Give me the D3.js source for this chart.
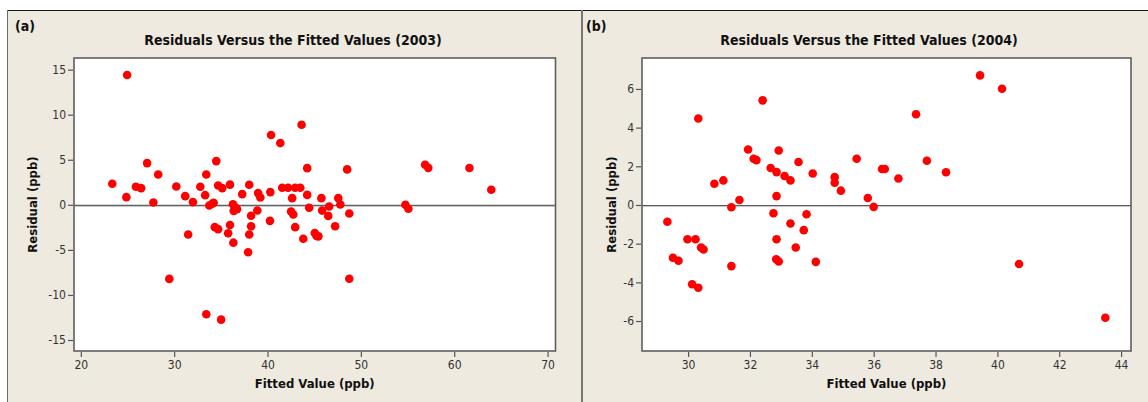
<!DOCTYPE html>
<html>
<head>
<meta charset="utf-8">
<script src="https://cdn.jsdelivr.net/npm/d3@7"></script>
<style>
  html, body { margin: 0; padding: 0; background: #ffffff; }
  svg { display: block; }
  .tick text { font-family: "DejaVu Sans Condensed", "DejaVu Sans", sans-serif; font-stretch: condensed; }
</style>
</head>
<body>
<svg id="chart" width="1148" height="402"></svg>
<script>
// Residuals vs fitted values, 2003 season
const fitted2003 = [23.37, 24.96, 24.88, 25.9, 26.46, 27.1, 27.77, 28.29, 29.48, 30.23,
  31.18, 31.5, 32.01, 32.8, 33.32, 33.44, 33.44, 33.76, 34.08, 34.23,
  34.51, 34.35, 34.71, 34.71, 35.15, 35.03, 35.78, 35.98, 35.98, 36.3,
  36.34, 36.38, 36.57, 36.73, 37.29, 37.92, 38.04, 38.04, 38.24, 38.24,
  38.91, 38.99, 39.23, 40.26, 40.3, 40.38, 41.37, 41.57, 42.2, 42.52,
  42.64, 42.76, 42.96, 42.96, 43.51, 43.65, 43.83, 44.25, 44.25, 44.46,
  45.06, 45.25, 45.45, 45.77, 45.85, 46.5, 46.6, 47.24, 47.58, 47.8,
  48.53, 48.76, 48.76, 54.77, 55.09, 56.88, 57.22, 61.63, 63.97];
const resid2003 = [2.33, 14.4, 0.85, 2.0, 1.85, 4.63, 0.26, 3.37, -8.22, 2.04,
  0.96, -3.3, 0.3, 2.0, 1.07, 3.37, -12.15, -0.07, 0.11, 0.22,
  4.85, -2.48, -2.7, 2.15, 1.85, -12.74, -3.15, 2.24, -2.24, 0.07,
  -4.2, -0.67, -0.3, -0.48, 1.19, -5.26, 2.22, -3.3, -1.22, -2.37,
  -0.63, 1.3, 0.81, -1.78, 1.41, 7.74, 6.85, 1.89, 1.89, -0.74,
  0.74, -1.07, -2.48, 1.89, 1.89, 8.88, -3.76, 4.07, 1.1, -0.33,
  -3.12, -3.46, -3.5, 0.74, -0.64, -1.23, -0.18, -2.37, 0.74, 0.04,
  3.93, -0.96, -8.21, 0.0, -0.44, 4.44, 4.1, 4.08, 1.67];

// Residuals vs fitted values, 2004 season
const fitted2004 = [29.33, 29.51, 29.69, 29.98, 30.24, 30.13, 30.33, 30.33, 30.42, 30.5,
  30.85, 31.14, 31.4, 31.4, 31.66, 31.94, 32.12, 32.21, 32.41, 32.67,
  32.76, 32.86, 32.86, 32.93, 32.86, 32.85, 32.93, 33.12, 33.31, 33.31,
  33.48, 33.57, 33.74, 33.83, 34.03, 34.13, 34.74, 34.74, 34.94, 35.45,
  35.81, 36.0, 36.27, 36.36, 36.8, 37.37, 37.72, 38.34, 39.44, 40.15,
  40.7, 43.49];
const resid2004 = [-0.87, -2.73, -2.88, -1.77, -1.77, -4.1, -4.28, 4.47, -2.2, -2.3,
  1.1, 1.27, -0.12, -3.16, 0.26, 2.87, 2.39, 2.32, 5.41, 1.91,
  -0.43, 1.7, 0.46, 2.82, -1.77, -2.81, -2.92, 1.5, 1.27, -0.96,
  -2.2, 2.22, -1.3, -0.48, 1.63, -2.94, 1.44, 1.15, 0.74, 2.39,
  0.36, -0.1, 1.86, 1.86, 1.37, 4.69, 2.29, 1.69, 6.7, 6.01,
  -3.05, -5.83];

// Tick values
const xTicks2003 = [20, 30, 40, 50, 60, 70];
const yTicks2003 = [-15, -10, -5, 0, 5, 10, 15];
const xTicks2004 = [30, 32, 34, 36, 38, 40, 42, 44];
const yTicks2004 = [-6, -4, -2, 0, 2, 4, 6];

const titles = ["Residuals Versus the Fitted Values (2003)", "Residuals Versus the Fitted Values (2004)"];
const panelTags = ["(a)", "(b)"];

const svg = d3.select("#chart");
const BG = "#eeeae0";
const FONT = "'DejaVu Sans Condensed', 'DejaVu Sans', sans-serif";

// panel backgrounds and separators
svg.append("rect").attr("x", 8).attr("y", 10).attr("width", 574).attr("height", 392).attr("fill", BG);
svg.append("rect").attr("x", 583).attr("y", 10).attr("width", 565).attr("height", 392).attr("fill", BG);
svg.append("line").attr("x1", 7).attr("x2", 1148).attr("y1", 10.5).attr("y2", 10.5)
  .attr("stroke", "#1a1a1a").attr("stroke-width", 1.2);
svg.append("line").attr("x1", 7.5).attr("x2", 7.5).attr("y1", 10).attr("y2", 402)
  .attr("stroke", "#6a6a6a").attr("stroke-width", 1);
svg.append("rect").attr("x", 581).attr("y", 10).attr("width", 2).attr("height", 392).attr("fill", "#767676");

const panels = [
  { fx: fitted2003, ry: resid2003, xt: xTicks2003, yt: yTicks2003,
    left: 74, right: 555.5, top: 58, bottom: 351,
    xDom: [19.27, 70.85], yDom: [-16.22, 16.29],
    title: titles[0], titleX: 293, tag: panelTags[0], tagX: 15, ylabX: 32 },
  { fx: fitted2004, ry: resid2004, xt: xTicks2004, yt: yTicks2004,
    left: 642, right: 1131, top: 58, bottom: 351,
    xDom: [28.51, 44.32], yDom: [-7.55, 7.6],
    title: titles[1], titleX: 869, tag: panelTags[1], tagX: 586, ylabX: 611 }
];

panels.forEach(p => {
  const g = svg.append("g");
  const x = d3.scaleLinear().domain(p.xDom).range([p.left, p.right]);
  const y = d3.scaleLinear().domain(p.yDom).range([p.bottom, p.top]);

  // plotting area
  g.append("rect").attr("x", p.left).attr("y", p.top)
    .attr("width", p.right - p.left).attr("height", p.bottom - p.top)
    .attr("fill", "#ffffff");

  // zero reference line
  g.append("line").attr("x1", p.left).attr("x2", p.right)
    .attr("y1", y(0) + 0.5).attr("y2", y(0) + 0.5)
    .attr("stroke", "#5a5a5a").attr("stroke-width", 1.2);
  g.append("line").attr("x1", p.left).attr("x2", p.right)
    .attr("y1", y(0) + 1.6).attr("y2", y(0) + 1.6)
    .attr("stroke", "#c4c4c4").attr("stroke-width", 1);

  // points
  g.append("g").selectAll("circle")
    .data(d3.zip(p.fx, p.ry))
    .join("circle")
    .attr("cx", d => x(d[0]))
    .attr("cy", d => y(d[1]))
    .attr("r", 4.3)
    .attr("fill", "#ff0000");

  // frame
  g.append("rect").attr("x", p.left).attr("y", p.top)
    .attr("width", p.right - p.left).attr("height", p.bottom - p.top)
    .attr("fill", "none").attr("stroke", "#5e5e5e").attr("stroke-width", 1.6);

  // axes
  const xAxis = d3.axisBottom(x).tickValues(p.xt).tickSize(5).tickPadding(3).tickFormat(d => String(d));
  const yAxis = d3.axisLeft(y).tickValues(p.yt).tickSize(5).tickPadding(2).tickFormat(d => String(d));

  const gx = g.append("g").attr("transform", `translate(0,${p.bottom + 1})`).call(xAxis);
  const gy = g.append("g").attr("transform", `translate(${p.left - 1},0)`).call(yAxis);
  [gx, gy].forEach(a => {
    a.select(".domain").remove();
    a.selectAll(".tick line").attr("stroke", "#555").attr("stroke-width", 1.2);
    a.selectAll(".tick text").attr("fill", "#333").attr("font-size", 12)
      .attr("font-family", FONT);
  });

  // title, tag, axis labels
  g.append("text").attr("x", p.titleX).attr("y", 45).attr("text-anchor", "middle")
    .attr("font-family", FONT).attr("font-weight", "bold").attr("font-size", 14)
    .attr("fill", "#111").text(p.title);
  g.append("text").attr("x", p.tagX).attr("y", 31)
    .attr("font-family", FONT).attr("font-weight", "bold").attr("font-size", 14)
    .attr("fill", "#111").text(p.tag);
  g.append("text").attr("x", (p.left + p.right) / 2).attr("y", 388).attr("text-anchor", "middle")
    .attr("font-family", FONT).attr("font-weight", "bold").attr("font-size", 13)
    .attr("fill", "#111").text("Fitted Value (ppb)");
  g.append("text")
    .attr("transform", `translate(${p.ylabX},${(p.top + p.bottom) / 2}) rotate(-90)`)
    .attr("text-anchor", "middle").attr("dominant-baseline", "central")
    .attr("font-family", FONT).attr("font-weight", "bold").attr("font-size", 13)
    .attr("fill", "#111").text("Residual (ppb)");
});
</script>
</body>
</html>
